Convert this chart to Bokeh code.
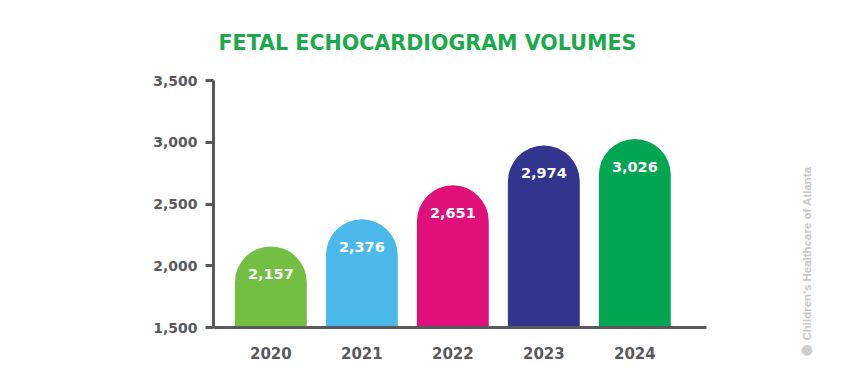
from bokeh.plotting import figure
from bokeh.models import Range1d, FixedTicker, ColumnDataSource, Label, NumeralTickFormatter
from bokeh.embed import file_html
from bokeh.resources import INLINE
from bokeh.core.properties import value
import math

years = ["2020", "2021", "2022", "2023", "2024"]
volumes = [2157, 2376, 2651, 2974, 3026]
labels = ["2,157", "2,376", "2,651", "2,974", "3,026"]
colors = ["#72bf44", "#4ab8e8", "#e0107a", "#33348e", "#00a651"]
y_ticks = [1500, 2000, 2500, 3000, 3500]

FONT = "DejaVu Sans"
GREY = "#58595b"

xs = list(range(len(years)))
src = ColumnDataSource(dict(x=xs, top=volumes, color=colors, label=labels))

# frame extended right/below so the vertical credit line fits inside it
p = figure(width=845, height=368, output_backend="svg", toolbar_location=None,
           x_range=Range1d(-0.63, 6.26), y_range=Range1d(1233, 3500),
           min_border_left=213, min_border_right=5, min_border_top=80, min_border_bottom=8,
           title="FETAL ECHOCARDIOGRAM VOLUMES")
p.outline_line_color = None
p.grid.grid_line_color = None
p.background_fill_color = "white"

p.title.text_font = FONT
p.title.text_font_style = "bold"
p.title.text_font_size = "20.6px"
p.title.text_color = "#1ba94c"
p.title.align = "left"
p.title.offset = 5
p.title.standoff = 52

p.vbar(x="x", top="top", bottom=1500, width=0.79, fill_color="color", line_color=None,
       border_radius=(36, 36, 0, 0), source=src)
p.text(x="x", y="top", text="label", source=src, text_color="white",
       text_font=value(FONT), text_font_style="bold", text_font_size="14.5px",
       text_align="center", text_baseline="middle", y_offset=28)

# axes
p.yaxis.ticker = FixedTicker(ticks=y_ticks)
p.yaxis.bounds = (1500, 3500)
p.yaxis.formatter = NumeralTickFormatter(format="0,0")
p.yaxis.minor_tick_line_color = None
p.yaxis.major_tick_out = 8
p.yaxis.major_tick_in = 0
p.yaxis.major_tick_line_width = 3
p.yaxis.major_tick_line_color = GREY
p.yaxis.axis_line_width = 3
p.yaxis.axis_line_color = GREY
p.yaxis.major_label_text_font = FONT
p.yaxis.major_label_text_font_style = "bold"
p.yaxis.major_label_text_font_size = "14px"
p.yaxis.major_label_text_color = GREY
p.yaxis.major_label_standoff = 8

p.xaxis.ticker = FixedTicker(ticks=xs)
p.xaxis.fixed_location = 1500
p.xaxis.bounds = (-0.72, 4.79)
p.xaxis.major_label_overrides = {i: y for i, y in enumerate(years)}
p.xaxis.minor_tick_line_color = None
p.xaxis.major_tick_out = 0
p.xaxis.major_tick_in = 0
p.xaxis.axis_line_width = 3
p.xaxis.axis_line_color = GREY
p.xaxis.major_label_text_font = FONT
p.xaxis.major_label_text_font_style = "bold"
p.xaxis.major_label_text_font_size = "15px"
p.xaxis.major_label_text_color = GREY
p.xaxis.major_label_standoff = 19

# vertical credit line at the right
p.add_layout(Label(x=5.89, y=1395, text="Children's Healthcare of Atlanta", angle=math.pi / 2,
                   text_font="Liberation Sans", text_font_style="bold", text_font_size="11.5px",
                   text_color="#c6c6c6", text_baseline="middle", text_align="left"))
p.add_layout(Label(x=5.89, y=1330, text="\u25cf", text_font="DejaVu Sans",
                   text_font_size="14px", text_color="#cdcdcd",
                   text_baseline="middle", text_align="center"))

open("out.html", "w").write(file_html(p, INLINE))
